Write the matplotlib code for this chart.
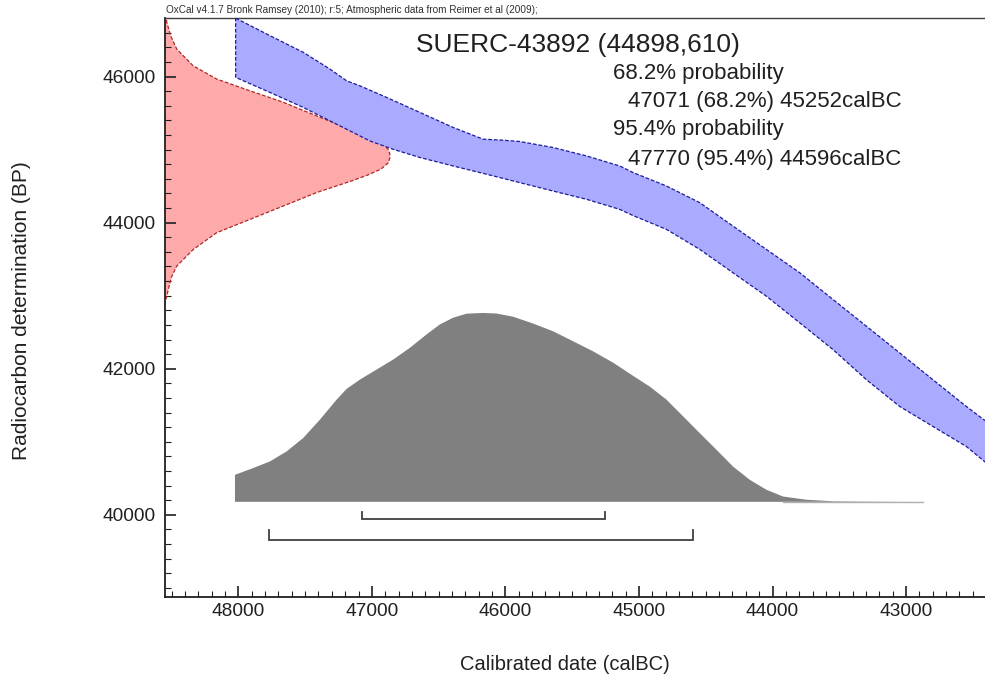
import matplotlib
matplotlib.use("Agg")
import matplotlib.pyplot as plt
from matplotlib.ticker import MultipleLocator, FixedLocator, FuncFormatter

plt.rcParams['font.family'] = ['Liberation Sans', 'DejaVu Sans']

# ---------------- data ----------------
# Radiocarbon measurement distribution (red, on the y axis)
red_bp = [46850, 46743, 46560, 46377, 46148, 45966, 45805, 45650, 45462, 45280, 45143,
          45060, 45005, 44950, 44892, 44820, 44733, 44650, 44572, 44412, 44228, 44045,
          43863, 43634, 43405, 43250, 43086, 42950]
red_prob = [0.004, 0.008, 0.025, 0.052, 0.125, 0.230, 0.378, 0.524, 0.674, 0.822, 0.930,
            0.975, 0.992, 0.999, 1.000, 0.993, 0.960, 0.900, 0.830, 0.674, 0.526, 0.378,
            0.230, 0.126, 0.052, 0.028, 0.015, 0.004]

# Calibration curve band (blue)
cal_up_year = [48020, 47763, 47514, 47314, 47189, 47090, 46890, 46640, 46391, 46167,
               46017, 45892, 45643, 45393, 45144, 45044, 44794, 44545, 44296, 44046,
               43796, 43547, 43297, 43048, 42799, 42549, 42300]
cal_up_bp = [46800, 46560, 46332, 46103, 45942, 45874, 45715, 45509, 45303, 45143,
             45129, 45111, 45029, 44914, 44776, 44686, 44502, 44274, 43953, 43634,
             43314, 42948, 42582, 42217, 41850, 41484, 41140]
cal_lo_year = [48020, 47763, 47514, 47264, 47015, 46841, 46640, 46391, 46141, 45892,
               45643, 45393, 45144, 45044, 44794, 44545, 44296, 44046, 43796, 43547,
               43297, 43048, 42799, 42549, 42300]
cal_lo_bp = [45989, 45783, 45578, 45348, 45119, 45005, 44892, 44776, 44663, 44548,
             44433, 44320, 44182, 44097, 43908, 43634, 43314, 42993, 42628, 42262,
             41850, 41484, 41210, 40936, 40560]

# Calibrated date distribution (grey)
post_year = [48025, 48025, 47888, 47763, 47638, 47514, 47389, 47264, 47189, 47090,
             46965, 46841, 46716, 46591, 46491, 46391, 46291, 46167, 46067, 45942,
             45793, 45643, 45493, 45344, 45194, 45046, 44919, 44794, 44670, 44545,
             44420, 44296, 44171, 44046, 43921, 43746, 43549, 43200, 42876]
post_prob = [0.0, 0.143, 0.179, 0.214, 0.267, 0.338, 0.435, 0.541, 0.598, 0.647,
             0.700, 0.753, 0.815, 0.886, 0.939, 0.975, 0.996, 1.000, 0.997, 0.980,
             0.944, 0.903, 0.850, 0.797, 0.737, 0.668, 0.610, 0.541, 0.453, 0.364,
             0.276, 0.187, 0.117, 0.064, 0.028, 0.011, 0.003, 0.001, 0.0]

# Ranges
range_68 = [47071, 45252]
range_95 = [47770, 44596]

title_text = "SUERC-43892 (44898,610)"
info_lines = ["68.2% probability", "47071 (68.2%) 45252calBC",
              "95.4% probability", "47770 (95.4%) 44596calBC"]
header = "OxCal v4.1.7 Bronk Ramsey (2010); r:5; Atmospheric data from Reimer et al (2009);"

x_ticks = [48000, 47000, 46000, 45000, 44000, 43000]
y_ticks = [40000, 42000, 44000, 46000]

# ---------------- figure ----------------
W, H = 985, 683
fig = plt.figure(figsize=(W / 100, H / 100), dpi=100)
ax = fig.add_axes([165 / W, 1 - 597 / H, (W - 165) / W, (597 - 18) / H])

XL, XR = 48549, 42409
YB, YT = 38875, 46802
ax.set_xlim(XL, XR)
ax.set_ylim(YB, YT)

# red measurement distribution
red_scale = 1684
red_x = [XL - p * red_scale for p in red_prob]
ax.fill_betweenx(red_bp, XL, red_x, facecolor='#ffaaaa', edgecolor='none', zorder=1)
ax.plot(red_x, red_bp, color='#b02828', lw=0.9, ls=(0, (3, 1.5)), zorder=2,
        solid_joinstyle='round')

# blue calibration band
poly_x = cal_up_year + cal_lo_year[::-1]
poly_y = cal_up_bp + cal_lo_bp[::-1]
ax.fill(poly_x, poly_y, facecolor='#aaaaff', edgecolor='none', zorder=3)
ax.plot(poly_x + [poly_x[0]], poly_y + [poly_y[0]], color='#1c1c9c', lw=0.9,
        ls=(0, (3, 1.5)), zorder=3)

# grey calibrated distribution
base = 40178
gscale = 2586
post_top = [base + p * gscale for p in post_prob]
ax.fill_between(post_year, base, post_top, facecolor='#808080', edgecolor='none', zorder=4)
ax.plot([post_year[-5], post_year[-1]], [base, base], color='#b0b0b0', lw=1.0, zorder=4)

# range brackets
def bracket(r, yh, yt):
    ax.plot([r[0], r[0], r[1], r[1]], [yt, yh, yh, yt], color='#404040', lw=1.3,
            zorder=5, solid_joinstyle='miter')

bracket(range_68, 39945, 40041)
bracket(range_95, 39657, 39790)

# axes styling
ax.spines['right'].set_visible(False)
ax.spines['top'].set_color('#404040')
ax.spines['top'].set_linewidth(1.0)
for s in ('left', 'bottom'):
    ax.spines[s].set_color('#202020')
    ax.spines[s].set_linewidth(1.3)

ax.xaxis.set_major_locator(FixedLocator(x_ticks))
ax.yaxis.set_major_locator(FixedLocator(y_ticks))
ax.xaxis.set_minor_locator(MultipleLocator(100))
ax.yaxis.set_minor_locator(MultipleLocator(200))
fmt = FuncFormatter(lambda v, p: f"{int(round(v))}")
ax.xaxis.set_major_formatter(fmt)
ax.yaxis.set_major_formatter(fmt)
ax.tick_params(which='both', direction='in', top=False, right=False, colors='#202020',
               labelsize=13.8, labelcolor='#202020')
ax.tick_params(which='major', length=8, width=1.2)
ax.tick_params(which='minor', length=4, width=0.8)
ax.tick_params(axis='y', which='major', pad=6.5)
ax.tick_params(axis='x', which='major', pad=4.5)

# texts
fig.text(166 / W, 1 - 10 / H, header, fontsize=7.2, color='#303030', ha='left', va='center')
fig.text(416 / W, 1 - 45 / H, title_text, fontsize=19, color='#202020', ha='left', va='center')
line_x = [613, 628, 613, 628]
line_y = [73, 102, 130, 159]
for t, lx, ly in zip(info_lines, line_x, line_y):
    fig.text(lx / W, 1 - ly / H, t, fontsize=16, color='#202020', ha='left', va='center')

fig.text(22 / W, 1 - 311 / H, "Radiocarbon determination (BP)", rotation=90,
         fontsize=15, color='#202020', ha='center', va='center')
fig.text(565 / W, 1 - 665 / H, "Calibrated date (calBC)", fontsize=14.5,
         color='#202020', ha='center', va='center')

fig.savefig("out.png", dpi=100)
